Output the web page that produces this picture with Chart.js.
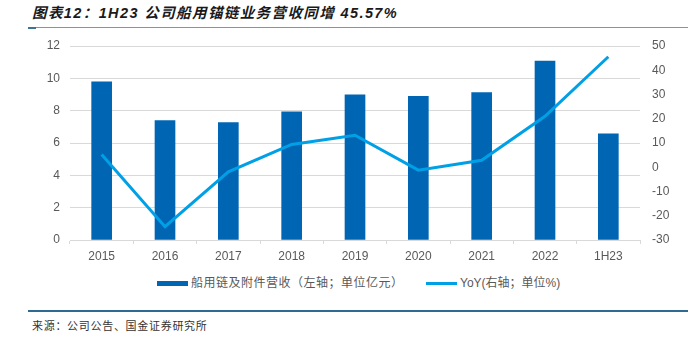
<!DOCTYPE html>
<html>
<head>
<meta charset="utf-8">
<script src="https://cdn.jsdelivr.net/npm/chart.js@4/dist/chart.umd.min.js"></script>
<style>
  html, body { margin: 0; padding: 0; background: #fff; }
  body { width: 698px; height: 337px; position: relative; overflow: hidden; font-family: "Liberation Sans", "Noto Sans CJK SC", sans-serif; }
  #title { position: absolute; left: 32px; top: 1px; font-family: "Liberation Sans", "Noto Sans CJK SC", sans-serif; font-size: 14.5px; font-weight: bold; font-style: italic; color: #1a1a1a; white-space: nowrap; letter-spacing: 1.4px; }
  #tline { position: absolute; left: 28px; top: 27px; width: 660px; height: 1px; background: #6d9bb8; }
  #tline2 { position: absolute; left: 28px; top: 27px; width: 8px; height: 1.5px; background: #3f7396; }
  #chartwrap { position: absolute; left: 0; top: 0; width: 698px; height: 265px; }
  #legend { position: absolute; top: 275px; left: 0; width: 698px; height: 16px; font-size: 12px; color: #595959; font-family: "Liberation Sans", "Noto Sans CJK SC", sans-serif; }
  .lg { position: absolute; top: 0; white-space: nowrap; line-height: 16px; }
  .sw { position: absolute; }
  #sline { position: absolute; left: 28px; top: 310px; width: 660px; height: 2px; background: #2f6a93; }
  #source { position: absolute; left: 32px; top: 317px; font-size: 11px; color: #333; font-family: "Noto Sans CJK SC", sans-serif; white-space: nowrap; letter-spacing: 0.7px; }
</style>
</head>
<body>
<div id="title">图表12：1H23 公司船用锚链业务营收同增 45.57%</div>
<div id="tline"></div><div id="tline2"></div>
<div id="chartwrap"><canvas id="c" width="698" height="265"></canvas></div>
<div id="legend">
  <div class="sw" style="left:157px; top:6px; width:31px; height:5px; background:#0066b3;"></div>
  <div class="lg" style="left:191px; letter-spacing:0.5px;">船用链及附件营收（左轴；单位亿元）</div>
  <div class="sw" style="left:426px; top:7px; width:31px; height:3px; background:#00a0e6;"></div>
  <div class="lg" style="left:460px;">YoY(右轴；单位%)</div>
</div>
<div id="sline"></div>
<div id="source">来源：公司公告、国金证券研究所</div>
<script>
const categories = ["2015", "2016", "2017", "2018", "2019", "2020", "2021", "2022", "1H23"];
const revenue = [9.78, 7.39, 7.27, 7.93, 8.98, 8.89, 9.12, 11.07, 6.57];
const yoy = [5.3, -24.5, -1.9, 9.4, 13.2, -1.2, 2.9, 21.0, 45.57];
const leftTicks = [0, 2, 4, 6, 8, 10, 12];
const rightTicks = [-30, -20, -10, 0, 10, 20, 30, 40, 50];

const tickFont = { family: "Liberation Sans, Arial, sans-serif", size: 12 };
const tickColor = "#595959";
const gridColor = "#d9d9d9";

new Chart(document.getElementById("c"), {
  type: "bar",
  data: {
    labels: categories,
    datasets: [
      {
        type: "line",
        label: "YoY(右轴；单位%)",
        data: yoy,
        yAxisID: "yR",
        borderColor: "#00a0e6",
        backgroundColor: "#00a0e6",
        borderWidth: 3,
        pointRadius: 0,
        tension: 0,
        order: 0
      },
      {
        type: "bar",
        label: "船用链及附件营收（左轴；单位亿元）",
        data: revenue,
        yAxisID: "yL",
        backgroundColor: "#0066b3",
        borderWidth: 0,
        barThickness: 20,
        order: 1
      }
    ]
  },
  options: {
    responsive: false,
    animation: false,
    layout: { padding: { top: 46, left: 0, right: 0, bottom: 0 } },
    plugins: { legend: { display: false }, tooltip: { enabled: false } },
    scales: {
      x: {
        offset: true,
        grid: { offset: true, drawOnChartArea: false, drawTicks: true, tickLength: 4, color: gridColor },
        border: { color: gridColor },
        ticks: { font: tickFont, color: tickColor, padding: 5, maxRotation: 0 },
        afterFit: (s) => { s.height = 25; }
      },
      yL: {
        position: "left",
        min: 0, max: 12,
        afterBuildTicks: (s) => { s.ticks = leftTicks.map(v => ({ value: v })); },
        grid: { color: gridColor, drawTicks: false },
        border: { display: false },
        ticks: { font: tickFont, color: tickColor, padding: 10 },
        afterFit: (s) => { s.width = 70; }
      },
      yR: {
        position: "right",
        min: -30, max: 50,
        afterBuildTicks: (s) => { s.ticks = rightTicks.map(v => ({ value: v })); },
        grid: { drawOnChartArea: false, drawTicks: false },
        border: { display: false },
        ticks: { font: tickFont, color: tickColor, padding: 12 },
        afterFit: (s) => { s.width = 58; }
      }
    }
  }
});
</script>
</body>
</html>
